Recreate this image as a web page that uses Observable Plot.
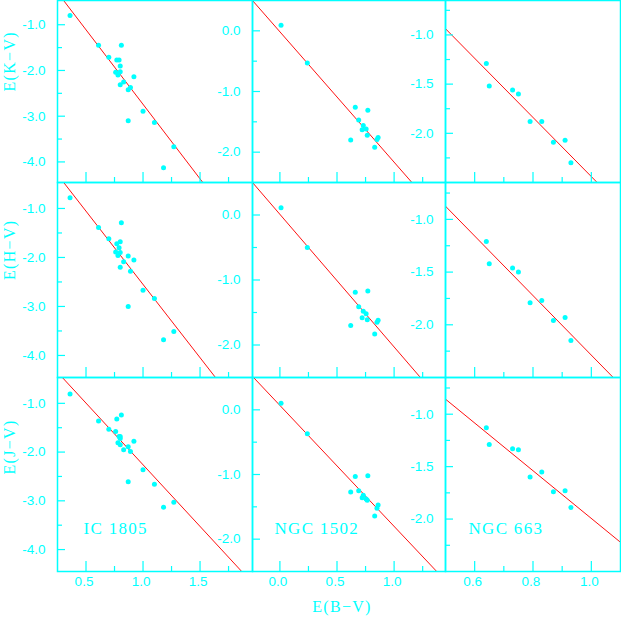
<!DOCTYPE html>
<html><head><meta charset="utf-8">
<script src="https://cdn.jsdelivr.net/npm/d3@7"></script>
<script src="https://cdn.jsdelivr.net/npm/@observablehq/plot@0.6"></script>
<style>
html,body{margin:0;padding:0;background:#fff;}
#chart{position:relative;width:621px;height:626px;overflow:hidden;background:#fff;}
.panel{position:absolute;}
</style></head><body><div id="chart"></div>
<script>
// ---- labels ----
const clusters = ["IC 1805", "NGC 1502", "NGC 663"];
const colourLabels = ["E(K\u2212V)", "E(H\u2212V)", "E(J\u2212V)"];
const xTitle = "E(B\u2212V)";

// ---- data: IC 1805 ----
const ic1805_ebv = [0.36, 0.61, 0.70, 0.81, 0.77, 0.79, 0.80, 0.76, 0.80, 0.78, 0.83, 0.80, 0.92, 0.89, 0.87, 1.00, 0.87, 1.10, 1.27, 1.18];
const ic1805_ekv = [-0.80, -1.45, -1.71, -1.45, -1.77, -1.77, -1.90, -2.04, -2.03, -2.10, -2.25, -2.31, -2.14, -2.37, -2.42, -2.89, -3.10, -3.14, -3.67, -4.13];
const ic1805_ehv = [-0.78, -1.39, -1.62, -1.29, -1.72, -1.80, -1.68, -1.89, -1.90, -1.96, -2.09, -2.20, -2.05, -2.28, -1.97, -2.67, -3.00, -2.84, -3.51, -3.68];
const ic1805_ejv = [-0.81, -1.36, -1.53, -1.24, -1.32, -1.68, -1.68, -1.58, -1.85, -1.81, -1.95, -1.72, -1.78, -1.99, -1.89, -2.36, -2.61, -2.66, -3.03, -3.13];

// ---- data: NGC 1502 ----
const ngc1502_ebv = [0.01, 0.24, 0.66, 0.77, 0.69, 0.73, 0.72, 0.755, 0.765, 0.62, 0.86, 0.85, 0.83];
const ngc1502_ekv = [0.09, -0.53, -1.26, -1.31, -1.47, -1.56, -1.63, -1.62, -1.72, -1.80, -1.76, -1.79, -1.92];
const ngc1502_ehv = [0.11, -0.50, -1.19, -1.17, -1.41, -1.48, -1.58, -1.52, -1.61, -1.70, -1.62, -1.65, -1.83];
const ngc1502_ejv = [0.10, -0.37, -1.03, -1.02, -1.25, -1.32, -1.36, -1.38, -1.40, -1.27, -1.47, -1.52, -1.64];

// ---- data: NGC 663 ----
const ngc663_ebv = [0.64, 0.65, 0.73, 0.75, 0.79, 0.83, 0.87, 0.91, 0.93];
const ngc663_ekv = [-1.29, -1.52, -1.56, -1.60, -1.88, -1.88, -2.09, -2.07, -2.30];
const ngc663_ehv = [-1.21, -1.42, -1.46, -1.50, -1.79, -1.77, -1.96, -1.93, -2.15];
const ngc663_ejv = [-1.13, -1.29, -1.33, -1.34, -1.60, -1.55, -1.74, -1.73, -1.89];

// ---- fitted lines [intercept, slope] per colour (rows) and cluster (columns) ----
const fitK = [[0.52, -3.26], [-0.016, -2.149], [0.566, -3.006]];
const fitH = [[0.44, -2.99], [0.01, -2.04], [0.538, -2.826]];
const fitJ = [[0.27, -2.53], [0.068, -1.87], [0.281, -2.275]];

// ---- scales & ticks per column ----
const xDomains = [[0.25, 1.96], [-0.24, 1.45], [0.5, 1.1]];
const yDomains = [[-4.45, -0.47], [-2.5, 0.5], [-2.5, -0.65]];
const xMajor = [[0.5, 1.0, 1.5], [0.0, 0.5, 1.0], [0.6, 0.8, 1.0]];
const xMinor = [[0.75, 1.25, 1.75], [0.25, 0.75, 1.25], [0.7, 0.9]];
const yMajor = [[-1, -2, -3, -4], [0, -1, -2], [-1, -1.5, -2]];
const yMinor = [[-1.5, -2.5, -3.5], [-0.5, -1.5], [-0.75, -1.25, -1.75, -2.25]];

// ---- layout ----
const colLeft = [57, 252, 445], colWidth = [195, 193, 175];
const rowTop = [0, 182, 377], rowHeight = [182, 195, 194];
const CY = "#00ffff", RED = "#ff1010";
const SANS = "Liberation Sans, Arial, sans-serif";
const SERIF = "Liberation Serif, Times New Roman, serif";

const ebvs = [ic1805_ebv, ngc1502_ebv, ngc663_ebv];
const series = [
  [ic1805_ekv, ngc1502_ekv, ngc663_ekv],
  [ic1805_ehv, ngc1502_ehv, ngc663_ehv],
  [ic1805_ejv, ngc1502_ejv, ngc663_ejv]
];
const fits = [fitK, fitH, fitJ];
const fmt = d => (d < 0 ? "-" : "") + Math.abs(d).toFixed(1);

const chart = document.getElementById("chart");
const serifTexts = [...clusters, ...colourLabels, xTitle];

for (let r = 0; r < 3; r++) {
  for (let c = 0; c < 3; c++) {
    const W = colWidth[c], H = rowHeight[r];
    const pts = ebvs[c].map((x, i) => ({x, y: series[r][c][i]}));
    const [a, b] = fits[r][c];
    const linePts = xDomains[c].map(x => ({x, y: a + b * x}));
    const marks = [
      Plot.line(linePts, {x: "x", y: "y", stroke: RED, strokeWidth: 1, clip: true}),
      Plot.dot(pts, {x: "x", y: "y", r: 2.5, fill: CY}),
      Plot.frame({stroke: CY, strokeWidth: 1.5}),
      Plot.ruleX(xMajor[c], {x: d => d, insetTop: H - 10, stroke: CY, strokeWidth: 1.2}),
      Plot.ruleX(xMinor[c], {x: d => d, insetTop: H - 5, stroke: CY, strokeWidth: 1.2}),
      Plot.ruleY(yMajor[c], {y: d => d, insetRight: W - 8, stroke: CY, strokeWidth: 1.2}),
      Plot.ruleY(yMinor[c], {y: d => d, insetRight: W - 5, stroke: CY, strokeWidth: 1.2}),
      Plot.text(yMajor[c], {y: d => d, text: fmt, frameAnchor: "left", dx: -12, textAnchor: "end",
        fill: CY, fontSize: 13.5, fontFamily: SANS})
    ];
    if (r === 2) {
      marks.push(Plot.text(xMajor[c], {x: d => d, text: fmt, frameAnchor: "bottom", dy: 14, dx: -2,
        fill: CY, fontSize: 13.5, fontFamily: SANS}));
      marks.push(Plot.text([clusters[c]], {text: d => d, frameAnchor: "bottom-left", dx: [26, 22, 23][c], dy: -38,
        textAnchor: "start", fill: CY, fontSize: 17, fontFamily: SERIF}));
    }
    if (c === 0) {
      marks.push(Plot.text([colourLabels[r]], {text: d => d, frameAnchor: "left", dx: -48, rotate: -90,
        fill: CY, fontSize: 16, fontFamily: SERIF}));
    }
    if (r === 2 && c === 1) {
      marks.push(Plot.text([xTitle], {text: d => d, frameAnchor: "bottom", dy: 40, dx: -7,
        fill: CY, fontSize: 16, fontFamily: SERIF}));
    }
    const svg = Plot.plot({
      width: W, height: H, margin: 0,
      x: {domain: xDomains[c], axis: null},
      y: {domain: yDomains[c], axis: null},
      style: {overflow: "visible", background: "transparent", maxWidth: "none"},
      marks
    });
    d3.select(svg).selectAll("text")
      .filter(function() { return serifTexts.includes(this.textContent); })
      .attr("letter-spacing", "1.3px");
    const div = document.createElement("div");
    div.className = "panel";
    div.style.left = colLeft[c] + "px";
    div.style.top = rowTop[r] + "px";
    div.style.width = W + "px";
    div.style.height = H + "px";
    div.appendChild(svg);
    chart.appendChild(div);
  }
}
</script></body></html>
